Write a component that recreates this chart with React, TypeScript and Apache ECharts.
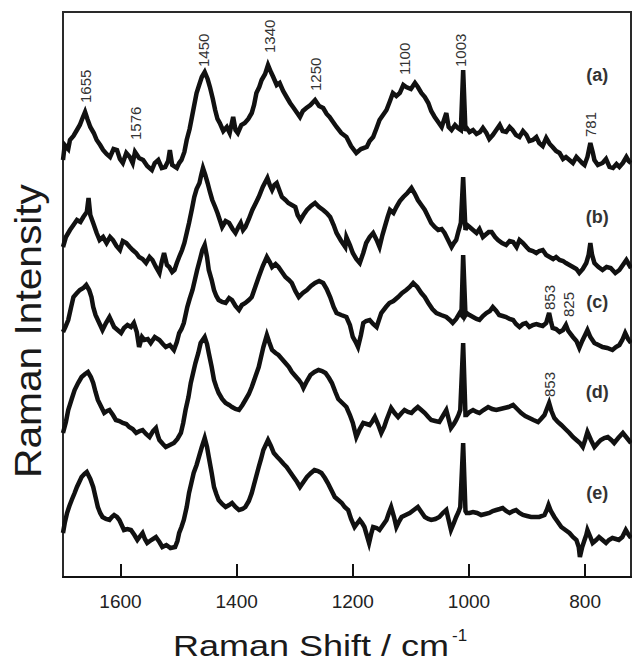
import React, { useEffect, useRef } from "react";
import * as echarts from "echarts";

// Raman shift tick labels (cm^-1)
const xTicks = [1600, 1400, 1200, 1000, 800];

// Spectra: [Raman shift (cm^-1), intensity (a.u., stacked offset)]
const traceA: [number, number][] = [
  [1699,417],[1696,432],[1690,428],[1687,437],[1681,441],[1675,447],[1670,452],[1666,458],[1661,465],[1657,458],[1652,450],[1646,444],[1641,437],[1635,432],[1630,427],[1624,423],[1618,420],[1612,428],[1606,427],[1601,418],[1596,414],[1590,424],[1584,420],[1579,414],[1575,425],[1568,419],[1561,417],[1554,411],[1546,407],[1541,414],[1535,417],[1529,409],[1523,410],[1518,416],[1515,427],[1511,412],[1503,409],[1499,414],[1495,417],[1490,425],[1486,437],[1481,448],[1477,460],[1473,472],[1469,484],[1464,493],[1460,500],[1455,505],[1450,498],[1446,490],[1441,478],[1437,467],[1433,458],[1429,454],[1423,446],[1417,450],[1412,444],[1406,460],[1402,447],[1398,444],[1392,452],[1386,454],[1380,458],[1374,464],[1370,472],[1366,484],[1361,490],[1357,497],[1351,503],[1346,512],[1341,505],[1337,500],[1331,492],[1326,494],[1320,486],[1314,480],[1308,474],[1303,470],[1297,465],[1291,460],[1286,466],[1280,469],[1273,472],[1265,477],[1258,471],[1251,469],[1245,463],[1240,460],[1234,455],[1228,450],[1220,444],[1211,440],[1203,431],[1194,424],[1186,428],[1176,430],[1171,436],[1165,440],[1159,449],[1154,457],[1148,462],[1142,467],[1136,476],[1131,484],[1125,481],[1119,484],[1113,492],[1108,490],[1100,488],[1093,494],[1088,490],[1082,484],[1076,480],[1070,474],[1065,466],[1059,460],[1053,455],[1047,450],[1043,457],[1039,464],[1035,450],[1030,447],[1024,452],[1019,449],[1014,447],[1010,507],[1006,446],[1004,449],[999,445],[993,447],[987,443],[981,445],[976,449],[970,444],[965,438],[959,442],[953,447],[947,452],[942,446],[936,445],[930,450],[925,447],[919,442],[913,440],[907,446],[901,442],[896,436],[890,437],[884,440],[879,434],[873,431],[867,439],[861,433],[856,430],[850,426],[844,424],[838,418],[833,420],[827,417],[821,414],[815,420],[810,417],[805,414],[801,412],[796,420],[791,434],[787,425],[784,417],[778,412],[770,414],[764,418],[758,410],[752,409],[746,413],[741,410],[735,414],[729,420],[725,416],[721,414]
];

const traceB: [number, number][] = [
  [1699,330],[1694,340],[1687,347],[1681,352],[1675,357],[1669,355],[1664,360],[1658,365],[1655,379],[1652,362],[1647,354],[1641,344],[1636,337],[1630,340],[1624,334],[1618,340],[1613,337],[1607,331],[1601,327],[1596,336],[1590,334],[1584,330],[1579,327],[1573,324],[1568,320],[1562,318],[1556,314],[1550,320],[1545,317],[1539,310],[1533,304],[1529,315],[1525,324],[1520,312],[1516,310],[1511,305],[1507,307],[1503,314],[1499,320],[1494,327],[1490,334],[1486,344],[1482,354],[1477,368],[1473,380],[1469,388],[1464,394],[1461,402],[1458,409],[1454,402],[1450,394],[1446,385],[1442,377],[1437,370],[1433,364],[1429,357],[1425,350],[1419,356],[1413,354],[1407,348],[1402,344],[1397,350],[1393,354],[1389,347],[1385,350],[1379,358],[1373,367],[1367,374],[1362,380],[1355,390],[1347,399],[1343,392],[1339,387],[1335,392],[1331,394],[1326,386],[1322,380],[1316,377],[1311,374],[1305,372],[1299,370],[1295,362],[1290,357],[1285,362],[1279,367],[1272,371],[1265,374],[1258,370],[1251,367],[1245,364],[1239,360],[1233,352],[1228,344],[1220,336],[1213,330],[1211,340],[1205,332],[1200,324],[1194,318],[1188,314],[1182,324],[1177,334],[1171,340],[1165,344],[1159,337],[1154,330],[1149,342],[1145,350],[1140,360],[1136,367],[1130,364],[1125,370],[1119,376],[1113,380],[1106,384],[1099,389],[1093,383],[1088,377],[1082,372],[1076,367],[1070,360],[1065,354],[1059,350],[1053,347],[1047,348],[1042,344],[1036,337],[1030,330],[1026,334],[1022,337],[1018,346],[1014,354],[1010,400],[1006,347],[1003,352],[999,350],[993,347],[987,344],[982,348],[976,340],[970,343],[966,345],[961,345],[955,340],[950,337],[943,334],[936,332],[930,336],[924,335],[918,330],[913,337],[907,334],[901,330],[896,327],[890,326],[884,324],[879,326],[873,327],[867,322],[861,320],[855,318],[850,320],[844,317],[838,316],[833,314],[827,312],[821,310],[815,308],[810,304],[804,308],[798,314],[794,322],[791,334],[788,322],[784,314],[777,310],[770,307],[763,310],[756,309],[748,304],[741,307],[735,312],[729,317],[725,313],[721,309]
];

const traceC: [number, number][] = [
  [1699,245],[1695,250],[1690,257],[1685,270],[1681,280],[1675,284],[1670,287],[1664,289],[1659,292],[1654,287],[1650,280],[1647,270],[1643,262],[1639,257],[1635,252],[1631,247],[1625,254],[1619,260],[1615,255],[1611,250],[1605,247],[1599,244],[1594,249],[1588,252],[1582,250],[1577,254],[1572,245],[1568,230],[1563,240],[1559,237],[1553,238],[1548,234],[1541,240],[1533,237],[1527,233],[1522,230],[1515,232],[1508,227],[1503,235],[1499,244],[1495,248],[1491,254],[1485,270],[1481,278],[1476,287],[1472,297],[1468,307],[1463,318],[1459,327],[1455,332],[1451,320],[1448,307],[1443,297],[1439,287],[1435,281],[1431,277],[1425,275],[1419,274],[1413,279],[1408,277],[1402,271],[1396,267],[1391,272],[1385,274],[1379,277],[1374,280],[1368,290],[1362,300],[1355,311],[1348,320],[1343,315],[1339,310],[1333,313],[1328,310],[1322,305],[1316,300],[1310,297],[1305,294],[1299,286],[1293,280],[1286,284],[1279,287],[1272,291],[1265,294],[1258,296],[1251,294],[1245,288],[1239,280],[1233,270],[1228,264],[1220,262],[1211,260],[1205,252],[1200,240],[1195,235],[1191,230],[1186,242],[1182,254],[1177,256],[1171,257],[1165,253],[1159,250],[1155,257],[1151,264],[1143,270],[1137,274],[1130,276],[1122,280],[1115,284],[1108,287],[1102,290],[1096,294],[1089,290],[1082,284],[1076,280],[1070,274],[1063,268],[1056,264],[1048,262],[1039,260],[1033,257],[1028,254],[1022,258],[1016,264],[1013,262],[1010,322],[1006,262],[1004,264],[999,262],[993,260],[987,258],[982,257],[976,261],[970,264],[964,266],[959,270],[953,266],[948,262],[942,261],[936,260],[930,258],[924,257],[919,253],[913,250],[907,253],[902,254],[896,250],[890,252],[884,253],[879,252],[873,251],[867,254],[864,260],[862,264],[859,256],[856,249],[850,248],[844,245],[838,247],[833,252],[829,246],[821,240],[815,236],[810,229],[805,236],[800,242],[796,247],[791,240],[784,234],[777,232],[770,230],[762,229],[753,227],[747,230],[741,232],[736,237],[731,244],[726,238],[721,234]
];

const traceD: [number, number][] = [
  [1699,144],[1694,155],[1690,167],[1684,178],[1679,187],[1673,194],[1667,200],[1661,203],[1656,205],[1651,200],[1647,194],[1643,185],[1639,177],[1633,170],[1628,164],[1623,166],[1619,167],[1613,162],[1608,157],[1602,156],[1596,154],[1590,153],[1585,150],[1579,148],[1573,144],[1567,146],[1562,147],[1556,143],[1550,140],[1544,146],[1539,149],[1536,142],[1533,137],[1527,133],[1522,130],[1515,132],[1508,134],[1502,138],[1496,144],[1492,154],[1488,167],[1483,180],[1479,194],[1475,204],[1471,214],[1466,224],[1462,234],[1455,240],[1451,233],[1448,224],[1443,210],[1439,197],[1435,190],[1431,184],[1425,178],[1419,174],[1413,172],[1408,170],[1402,168],[1396,167],[1390,172],[1385,177],[1379,183],[1374,190],[1368,200],[1362,210],[1358,220],[1354,230],[1348,242],[1344,235],[1339,227],[1333,224],[1328,222],[1322,218],[1316,214],[1310,210],[1305,205],[1299,201],[1293,197],[1288,193],[1285,189],[1279,196],[1273,202],[1266,205],[1259,207],[1253,206],[1247,204],[1241,199],[1236,194],[1230,185],[1225,178],[1218,174],[1211,170],[1205,162],[1200,154],[1194,140],[1188,148],[1182,154],[1176,153],[1171,152],[1166,156],[1162,160],[1156,152],[1151,144],[1146,150],[1142,157],[1138,163],[1134,169],[1128,164],[1122,160],[1116,164],[1111,167],[1105,165],[1099,164],[1094,167],[1088,170],[1082,167],[1076,164],[1070,160],[1065,157],[1058,156],[1051,155],[1045,161],[1039,167],[1035,158],[1031,149],[1026,153],[1022,157],[1018,162],[1015,167],[1010,234],[1006,162],[1004,162],[999,165],[993,167],[987,165],[982,164],[975,167],[967,170],[960,168],[953,167],[946,168],[939,169],[932,170],[924,172],[917,168],[910,164],[903,161],[896,159],[889,157],[881,155],[876,158],[870,162],[866,168],[862,174],[858,166],[853,159],[847,155],[841,152],[834,148],[827,144],[821,140],[815,137],[809,134],[804,130],[800,137],[796,145],[790,137],[784,130],[778,134],[773,137],[767,139],[761,140],[755,137],[750,134],[743,139],[735,144],[728,139],[721,134]
];

const traceE: [number, number][] = [
  [1699,44],[1696,54],[1692,64],[1688,71],[1684,77],[1679,84],[1675,90],[1671,95],[1667,100],[1662,103],[1658,105],[1652,98],[1647,90],[1643,80],[1639,70],[1635,64],[1631,60],[1625,58],[1619,57],[1615,60],[1611,62],[1606,60],[1602,57],[1598,52],[1594,47],[1588,48],[1582,47],[1576,42],[1571,37],[1566,41],[1562,44],[1558,38],[1554,34],[1547,37],[1539,40],[1533,35],[1528,30],[1521,32],[1514,29],[1506,30],[1502,36],[1499,44],[1495,50],[1491,57],[1486,70],[1482,84],[1478,94],[1474,104],[1469,112],[1465,120],[1460,130],[1455,139],[1451,130],[1448,120],[1443,104],[1439,90],[1435,83],[1431,77],[1425,73],[1419,70],[1413,72],[1408,74],[1402,70],[1396,67],[1390,68],[1385,70],[1379,76],[1374,84],[1368,97],[1362,110],[1358,118],[1354,127],[1346,137],[1341,131],[1336,124],[1330,120],[1325,117],[1319,113],[1314,110],[1308,105],[1302,100],[1296,95],[1291,90],[1285,95],[1279,100],[1272,104],[1266,107],[1260,106],[1254,104],[1248,99],[1243,94],[1237,87],[1231,80],[1225,77],[1219,74],[1214,70],[1208,67],[1203,58],[1197,50],[1192,54],[1188,57],[1184,54],[1180,50],[1176,42],[1172,34],[1168,44],[1165,50],[1159,49],[1154,47],[1148,52],[1142,57],[1138,64],[1134,70],[1129,60],[1125,50],[1120,56],[1116,60],[1109,62],[1102,64],[1095,67],[1088,70],[1082,65],[1076,60],[1070,58],[1065,57],[1058,58],[1051,60],[1045,64],[1039,67],[1035,57],[1031,47],[1026,54],[1022,60],[1018,65],[1015,70],[1010,134],[1006,66],[1004,64],[999,64],[993,65],[986,64],[979,62],[972,63],[965,64],[959,66],[953,67],[947,68],[942,69],[936,66],[930,64],[924,66],[919,67],[913,64],[907,62],[900,61],[893,60],[886,60],[879,60],[874,61],[870,62],[866,67],[863,72],[859,66],[853,60],[847,55],[841,50],[834,47],[827,44],[821,40],[815,37],[811,30],[809,20],[805,30],[801,37],[798,42],[796,47],[791,40],[787,34],[781,37],[776,40],[770,37],[764,34],[759,37],[753,39],[747,38],[742,37],[736,40],[730,47],[726,43],[721,39]
];

const traces = [traceA, traceB, traceC, traceD, traceE];
const traceNames = ["(a)", "(b)", "(c)", "(d)", "(e)"];

// Peak annotations: [shift, intensity at label base, text]
const peakLabels: [number, number, string][] = [
  [1661, 474, "1655"],
  [1574, 437, "1576"],
  [1457, 510, "1450"],
  [1344, 524, "1340"],
  [1265, 486, "1250"],
  [1111, 502, "1100"],
  [1014, 510, "1003"],
  [790, 440, "781"],
  [861, 267, "853"],
  [828, 260, "825"],
  [861, 180, "853"],
];

// Sample labels: [shift, intensity, text]
const sampleLabels: [number, number, string][] = [
  [779, 502, "(a)"],
  [779, 360, "(b)"],
  [779, 275, "(c)"],
  [779, 185, "(d)"],
  [779, 84, "(e)"],
];

const xTitle = "Raman Shift / cm";
const xTitleSup = "-1";
const yTitle = "Raman Intensity";

const FONT = "'Liberation Sans', Arial, Helvetica, sans-serif";

export default function App() {
  const ref = useRef<HTMLDivElement>(null);
  useEffect(() => {
    if (!ref.current) return;
    const chart = echarts.init(ref.current, null, { renderer: "svg" });
    chart.setOption({
      animation: false,
      backgroundColor: "#ffffff",
      textStyle: { fontFamily: FONT },
      grid: {
        left: 63,
        top: 12,
        right: 1,
        bottom: 87,
        show: true,
        borderColor: "#2a2a2a",
        borderWidth: 2,
        backgroundColor: "transparent",
      },
      xAxis: {
        type: "value",
        inverse: true,
        min: 721,
        max: 1699,
        axisLine: { show: true, lineStyle: { color: "#111", width: 2 } },
        axisTick: {
          show: true,
          inside: true,
          length: 13,
          lineStyle: { color: "#111", width: 2 },
          customValues: xTicks,
        },
        axisLabel: {
          show: true,
          customValues: xTicks,
          formatter: (v: number) => String(v),
          fontSize: 19,
          color: "#222",
          margin: 15,
          fontFamily: FONT,
        },
        splitLine: { show: false },
      },
      yAxis: {
        type: "value",
        min: 0,
        max: 565,
        axisLine: { show: false },
        axisTick: { show: false },
        axisLabel: { show: false },
        splitLine: { show: false },
      },
      series: traces.map((d, i) => ({
        name: traceNames[i],
        type: "line",
        data: d,
        symbol: "none",
        showSymbol: false,
        silent: true,
        lineStyle: { color: "#111", width: 4.5, join: "miter" },
      })),
    });

    const graphics: any[] = [];
    peakLabels.forEach(([v, h, t]) => {
      const p = chart.convertToPixel({ gridIndex: 0 }, [v, h]) as number[];
      graphics.push({
        type: "text",
        x: p[0],
        y: p[1],
        rotation: Math.PI / 2,
        style: {
          text: t,
          fontSize: 15,
          fontFamily: FONT,
          fill: "#333",
          align: "left",
          verticalAlign: "middle",
          textAlign: "left",
          textVerticalAlign: "middle",
        },
      });
    });
    sampleLabels.forEach(([v, h, t]) => {
      const p = chart.convertToPixel({ gridIndex: 0 }, [v, h]) as number[];
      graphics.push({
        type: "text",
        x: p[0],
        y: p[1],
        style: {
          text: t,
          fontSize: 18,
          fontWeight: "bold",
          fontFamily: FONT,
          fill: "#333",
          align: "center",
          verticalAlign: "middle",
          textAlign: "center",
          textVerticalAlign: "middle",
        },
      });
    });
    // axis titles
    graphics.push({
      type: "text",
      x: 311,
      y: 646,
      scaleX: 1.2,
      style: {
        text: xTitle,
        fontSize: 30,
        fontFamily: FONT,
        fill: "#1a1a1a",
        align: "center",
        verticalAlign: "middle",
        textAlign: "center",
        textVerticalAlign: "middle",
      },
    });
    graphics.push({
      type: "text",
      x: 452,
      y: 635,
      style: {
        text: xTitleSup,
        fontSize: 17,
        fontFamily: FONT,
        fill: "#1a1a1a",
        align: "left",
        verticalAlign: "middle",
        textAlign: "left",
        textVerticalAlign: "middle",
      },
    });
    graphics.push({
      type: "text",
      x: 28,
      y: 331,
      rotation: Math.PI / 2,
      scaleX: 1.1,
      style: {
        text: yTitle,
        fontSize: 37,
        fontFamily: FONT,
        fill: "#1a1a1a",
        align: "center",
        verticalAlign: "middle",
        textAlign: "center",
        textVerticalAlign: "middle",
      },
    });
    chart.setOption({ graphic: graphics });
    return () => chart.dispose();
  }, []);
  return (
    <div
      ref={ref}
      style={{ position: "fixed", left: 0, top: 0, width: 632, height: 664 }}
    />
  );
}
